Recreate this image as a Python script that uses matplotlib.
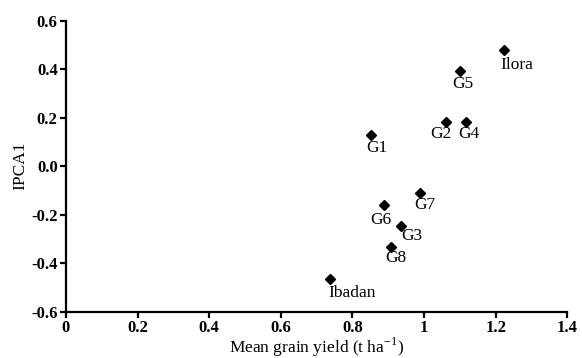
import matplotlib
matplotlib.use('Agg')
import matplotlib.pyplot as plt

plt.rcParams['font.family'] = 'Liberation Serif'
plt.rcParams['axes.unicode_minus'] = False
plt.rcParams['mathtext.fontset'] = 'custom'
plt.rcParams['mathtext.rm'] = 'Liberation Serif'

# Data
names = ['Ilora', 'G5', 'G2', 'G4', 'G1', 'G7', 'G6', 'G3', 'G8', 'Ibadan']
yield_mean = [1.222, 1.100, 1.061, 1.118, 0.851, 0.989, 0.888, 0.936, 0.908, 0.737]
ipca1 = [0.478, 0.392, 0.182, 0.182, 0.127, -0.111, -0.159, -0.247, -0.334, -0.467]

xticks = [0, 0.2, 0.4, 0.6, 0.8, 1.0, 1.2, 1.4]
xtick_labels = ['0', '0.2', '0.4', '0.6', '0.8', '1', '1.2', '1.4']
yticks = [-0.6, -0.4, -0.2, 0.0, 0.2, 0.4, 0.6]
ytick_labels = ['-0.6', '-0.4', '-0.2', '0.0', '0.2', '0.4', '0.6']

# label offsets in pixels (dx, dy), text centre relative to point
offsets = [(13, -15), (3, -13), (-5, -12), (3, -12), (6, -13),
           (5, -12), (-3, -15), (11, -10), (5, -11), (22, -14)]

fig = plt.figure(figsize=(5.82, 3.58), dpi=100)
ax = fig.add_axes([0.1134, 0.1293, 0.8614, 0.8129])

ax.plot(yield_mean, ipca1, linestyle='none', marker='D', color='black', markersize=5.5)

for nm, xv, yv, (dx, dy) in zip(names, yield_mean, ipca1, offsets):
    ax.annotate(nm, (xv, yv), xytext=(dx, dy), textcoords='offset pixels',
                ha='center', va='center', fontsize=12.5)

ax.set_xlim(0, 1.4)
ax.set_ylim(-0.6, 0.6)
ax.set_xticks(xticks)
ax.set_xticklabels(xtick_labels, fontsize=12, fontweight='bold')
ax.set_yticks(yticks)
ax.set_yticklabels(ytick_labels, fontsize=12, fontweight='bold')

for s in ['top', 'right']:
    ax.spines[s].set_visible(False)
for s in ['left', 'bottom']:
    ax.spines[s].set_linewidth(1.6)
ax.tick_params(direction='out', length=4, width=1.6, pad=2)

ax.set_xlabel('Mean grain yield (t ha$^{-1}$)', fontsize=12.5, labelpad=0)
ax.set_ylabel('IPCA1', fontsize=12.5, labelpad=2)

plt.savefig('out.png', dpi=100)
